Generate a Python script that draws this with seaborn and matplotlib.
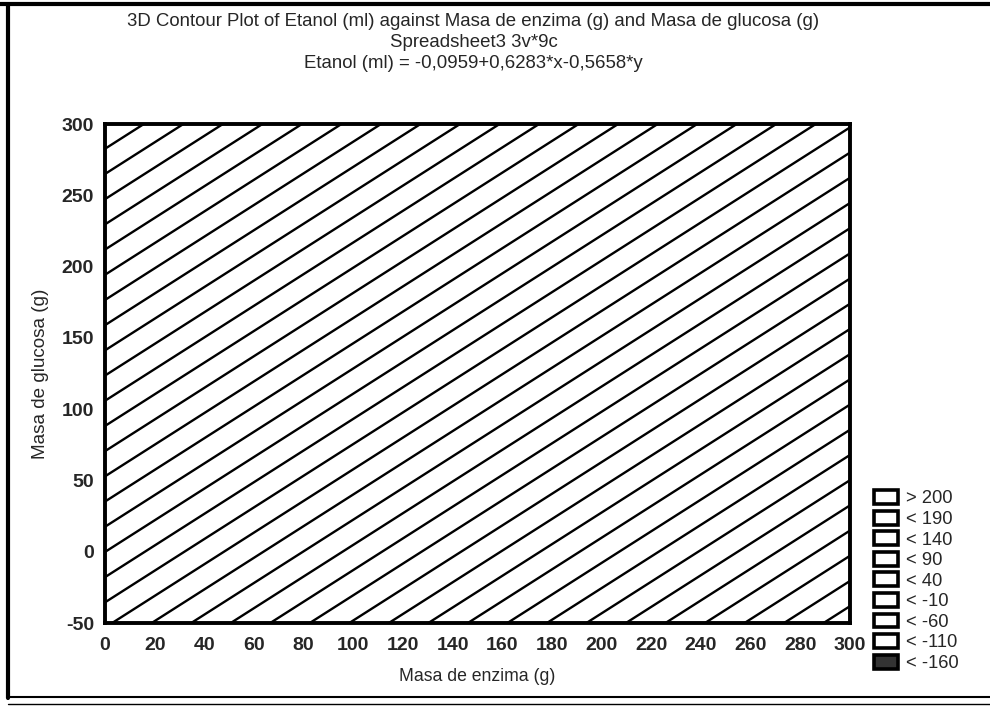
import numpy as np
import matplotlib
matplotlib.use("Agg")
import matplotlib.pyplot as plt
import seaborn as sns
from matplotlib.patches import Patch
from matplotlib.lines import Line2D

# ---- data ----
coef_intercept = -0.0959
coef_x = 0.6283
coef_y = -0.5658
x_range = [0, 300]
y_range = [-50, 300]
x_ticks = [0, 20, 40, 60, 80, 100, 120, 140, 160, 180, 200, 220, 240, 260, 280, 300]
y_ticks = [-50, 0, 50, 100, 150, 200, 250, 300]
contour_levels = [-160, -150, -140, -130, -120, -110, -100, -90, -80, -70, -60, -50,
                  -40, -30, -20, -10, 0, 10, 20, 30, 40, 50, 60, 70, 80, 90, 100,
                  110, 120, 130, 140, 150, 160, 170, 180, 190, 200, 210]
legend_labels = ["> 200", "< 190", "< 140", "< 90", "< 40", "< -10", "< -60", "< -110", "< -160"]

title_lines = ["3D Contour Plot of Etanol (ml) against Masa de enzima (g) and Masa de glucosa (g)",
               "Spreadsheet3 3v*9c",
               "Etanol (ml) = -0,0959+0,6283*x-0,5658*y"]

sns.set_style("white")
plt.rcParams['font.family'] = ['Liberation Sans', 'DejaVu Sans']
plt.rcParams['axes.unicode_minus'] = False

fig = plt.figure(figsize=(9.9, 7.1), dpi=100)
ax = fig.add_axes([105/990, 1-623/710, 745/990, 499/710])

xs = np.linspace(x_range[0], x_range[1], 301)
ys = np.linspace(y_range[0], y_range[1], 351)
X, Y = np.meshgrid(xs, ys)
Z = coef_intercept + coef_x * X + coef_y * Y
ax.contour(X, Y, Z, levels=contour_levels, colors='black', linewidths=1.7,
           linestyles='solid')

ax.set_xlim(x_range)
ax.set_ylim(y_range)
ax.set_xticks(x_ticks)
ax.set_yticks(y_ticks)
ax.tick_params(axis='both', length=0, labelsize=14)
ax.tick_params(axis='x', pad=10)
ax.tick_params(axis='y', pad=8)
for lab in ax.get_xticklabels() + ax.get_yticklabels():
    lab.set_fontweight('bold')
for sp in ax.spines.values():
    sp.set_visible(True)
    sp.set_color('black')
    sp.set_linewidth(2.8)

ax.set_xlabel("Masa de enzima (g)", fontsize=12.7, labelpad=10)
ax.set_ylabel("Masa de glucosa (g)", fontsize=13.6, labelpad=9)

cx = (105 + 745 / 2) / 990
for i, t in enumerate(title_lines):
    fig.text(cx - 4/990, 1 - (21 + 21.5 * i) / 710, t, ha='center', va='center', fontsize=13.4)

handles = []
for i, lab in enumerate(legend_labels):
    fc = '#333333' if i == len(legend_labels) - 1 else 'white'
    handles.append(Patch(facecolor=fc, edgecolor='black', linewidth=2.6))
leg = fig.legend(handles, legend_labels, loc='upper left',
                 bbox_to_anchor=(865/990, 1 - 481/710), frameon=False,
                 fontsize=13.2, handlelength=1.3, handleheight=0.78,
                 handletextpad=0.45, labelspacing=0.18, borderpad=0)

# page border (scan frame)
fig.add_artist(Line2D([0, 1], [1 - 4/710, 1 - 4/710], color='black', lw=3,
                      transform=fig.transFigure))
fig.add_artist(Line2D([8/990, 8/990], [1 - 4/710, 1 - 698/710], color='black', lw=3,
                      transform=fig.transFigure))
fig.add_artist(Line2D([8/990, 1], [1 - 697/710, 1 - 697/710], color='black', lw=1.5,
                      transform=fig.transFigure))
fig.add_artist(Line2D([8/990, 1], [1 - 704/710, 1 - 704/710], color='black', lw=1.0,
                      transform=fig.transFigure))

fig.savefig("out.png", dpi=100)
